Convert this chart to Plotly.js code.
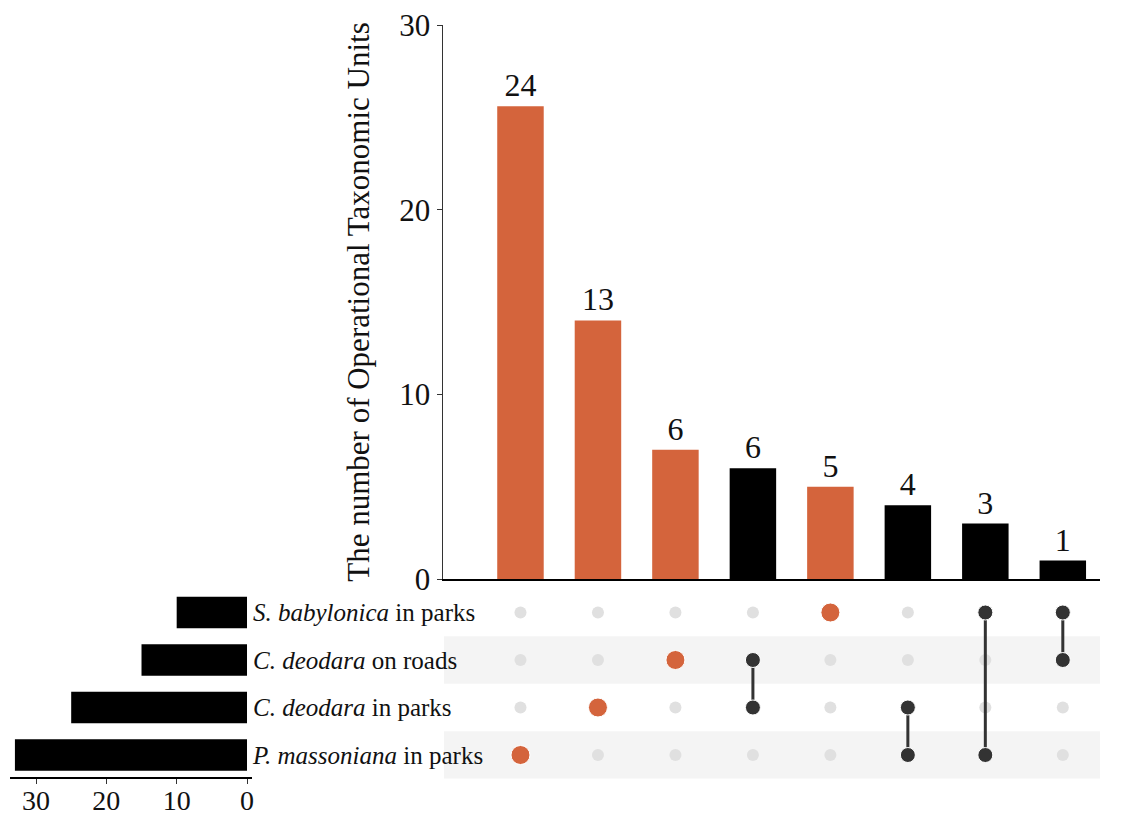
<!DOCTYPE html>
<html>
<head>
<meta charset="utf-8">
<script src="https://cdn.plot.ly/plotly-3.0.1.min.js"></script>
<style>html,body{margin:0;padding:0;background:#fff;}#chart{width:1129px;height:815px;}</style>
</head>
<body>
<div id="chart"></div>
<script>
// Sets, listed bottom row first
const setNames = ["<i>P. massoniana</i> in parks", "<i>C. deodara</i> in parks", "<i>C. deodara</i> on roads", "<i>S. babylonica</i> in parks"];
const setSizes = [33, 25, 15, 10];
// Intersections, left to right
const interHeights = [25.6, 14, 7, 6, 5, 4, 3, 1];
const interLabels = ["24", "13", "6", "6", "5", "4", "3", "1"];
const interMembers = [[0], [1], [2], [2, 1], [3], [1, 0], [3, 0], [3, 2]];

const ORANGE = "#d4643c";
const DARK = "#333333";
const GREY = "#e0e0e0";
const FONT = "Liberation Serif, Times New Roman, serif";

const idx = interHeights.map((_, i) => i);
const rows = setNames.map((_, i) => i);
const interColors = interMembers.map(m => m.length === 1 ? ORANGE : "#000000");

const traces = [];
// main intersection bars
traces.push({
  type: "bar", x: idx, y: interHeights, xaxis: "x", yaxis: "y",
  marker: {color: interColors}, width: 0.6,
  text: interLabels, textposition: "outside", cliponaxis: false,
  textfont: {family: FONT, size: 32, color: "#111"}, hoverinfo: "skip"
});
// grey background dots
const gx = [], gy = [];
idx.forEach(i => rows.forEach(r => { gx.push(i); gy.push(r); }));
traces.push({
  type: "scatter", mode: "markers", x: gx, y: gy, xaxis: "x2", yaxis: "y2",
  marker: {color: GREY, size: 12, opacity: 1}, hoverinfo: "skip"
});
// connecting lines
interMembers.forEach((m, i) => {
  if (m.length > 1) {
    traces.push({
      type: "scatter", mode: "lines", x: [i, i], y: [Math.min(...m), Math.max(...m)],
      xaxis: "x2", yaxis: "y2", line: {color: DARK, width: 3}, hoverinfo: "skip"
    });
  }
});
// active dots
const ax = [], ay = [], ac = [], as = [];
interMembers.forEach((m, i) => m.forEach(r => {
  ax.push(i); ay.push(r);
  ac.push(m.length === 1 ? ORANGE : DARK);
  as.push(m.length === 1 ? 19 : 15);
}));
traces.push({
  type: "scatter", mode: "markers", x: ax, y: ay, xaxis: "x2", yaxis: "y2",
  marker: {color: ac, size: as, opacity: 1}, hoverinfo: "skip"
});
// set size bars
traces.push({
  type: "bar", orientation: "h", x: setSizes, y: rows, xaxis: "x3", yaxis: "y3",
  marker: {color: "#000000"}, width: 0.66, hoverinfo: "skip"
});

const W = 1129, H = 815;
const px = v => v / W, py = v => 1 - v / H;
const mainDomX = [px(443), px(1100)];
const matDomY = [py(778.75), py(588.75)];

const layout = {
  width: W, height: H, margin: {l: 0, r: 0, t: 0, b: 0},
  paper_bgcolor: "#fff", plot_bgcolor: "rgba(0,0,0,0)",
  showlegend: false, font: {family: FONT, color: "#111"},
  xaxis: {domain: mainDomX, range: [-1.0, 7.48], anchor: "y", showline: true, linecolor: "#000", linewidth: 2,
          showticklabels: false, ticks: "", showgrid: false, zeroline: false},
  yaxis: {domain: [py(579), py(25)], range: [0, 30], anchor: "x", showline: true, linecolor: "#333", linewidth: 1.5,
          ticks: "outside", ticklen: 5, tickcolor: "#333", tickvals: [0, 10, 20, 30],
          tickfont: {family: FONT, size: 31, color: "#111"}, showgrid: false, zeroline: false,
          title: {text: "The number of Operational Taxonomic Units", font: {family: FONT, size: 31, color: "#111"}, standoff: 20}},
  xaxis2: {domain: mainDomX, matches: "x", anchor: "y2", visible: false, showgrid: false, zeroline: false},
  yaxis2: {domain: matDomY, range: [-0.5, 3.5], anchor: "x2", visible: false, showgrid: false, zeroline: false},
  xaxis3: {domain: [px(10), px(252)], range: [33.7, -0.71], anchor: "free", position: py(777), showline: true, linecolor: "#000", linewidth: 1.5,
           ticks: "outside", ticklen: 5, tickcolor: "#333", tickvals: [0, 10, 20, 30], ticklabelstandoff: -7,
           tickfont: {family: FONT, size: 28, color: "#111"}, showgrid: false, zeroline: false},
  yaxis3: {domain: matDomY, range: [-0.5, 3.5], anchor: "x3", side: "right", showline: false, ticks: "",
           tickvals: rows, ticktext: setNames, tickfont: {family: FONT, size: 25, color: "#111"},
           showgrid: false, zeroline: false},
  shapes: [
    {type: "rect", xref: "paper", yref: "y2", x0: px(444), x1: px(1100), y0: 1.5, y1: 2.5, fillcolor: "#f4f4f4", line: {width: 0}, layer: "below"},
    {type: "rect", xref: "paper", yref: "y2", x0: px(444), x1: px(1100), y0: -0.5, y1: 0.5, fillcolor: "#f4f4f4", line: {width: 0}, layer: "below"}
  ]
};

Plotly.newPlot("chart", traces, layout, {displayModeBar: false, staticPlot: true});
</script>
</body>
</html>
